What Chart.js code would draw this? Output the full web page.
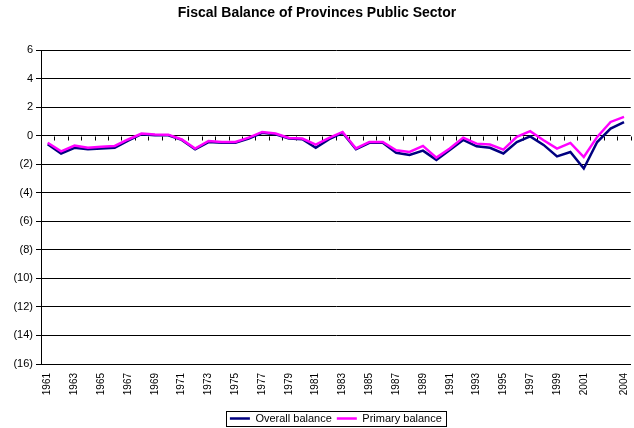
<!DOCTYPE html>
<html>
<head>
<meta charset="utf-8">
<script src="https://cdn.jsdelivr.net/npm/chart.js@4.4.1/dist/chart.umd.min.js"></script>
<style>
  html, body { margin: 0; padding: 0; background: #ffffff; }
  #wrap { width: 634px; height: 428px; position: relative; }
</style>
</head>
<body>
<div id="wrap"><canvas id="chart"></canvas></div>
<script>
// Fiscal year categories
const years = [
  '1961','1962','1963','1964','1965','1966','1967','1968','1969','1970',
  '1971','1972','1973','1974','1975','1976','1977','1978','1979','1980',
  '1981','1982','1983','1984','1985','1986','1987','1988','1989','1990',
  '1991','1992','1993','1994','1995','1996','1997','1998','1999','2000',
  '2001','2002','2003','2004'
];

// Balances, % of GDP
const overallBalance = [
  -0.60, -1.25, -0.85, -0.95, -0.90, -0.85, -0.35,  0.10,  0.03,  0.03,
  -0.30, -0.95, -0.45, -0.50, -0.50, -0.20,  0.20,  0.10, -0.20, -0.25,
  -0.85, -0.25,  0.20, -0.95, -0.50, -0.50, -1.20, -1.35, -1.05, -1.70,
  -1.00, -0.30, -0.75, -0.85, -1.25, -0.45, -0.05, -0.65, -1.45, -1.15,
  -2.30, -0.45,  0.50,  0.95
];
const primaryBalance = [
  -0.50, -1.10, -0.70, -0.85, -0.78, -0.72, -0.27,  0.15,  0.08,  0.07,
  -0.27, -0.90, -0.37, -0.44, -0.44, -0.14,  0.26,  0.15, -0.16, -0.20,
  -0.63, -0.15,  0.26, -0.90, -0.44, -0.44, -1.03, -1.14, -0.72, -1.54,
  -0.90, -0.14, -0.56, -0.62, -0.98, -0.09,  0.31, -0.32, -0.91, -0.51,
  -1.50, -0.09,  0.96,  1.32
];

// Years that carry a label on the category axis
const labeledYears = [
  '1961','1963','1965','1967','1969','1971','1973','1975','1977','1979',
  '1981','1983','1985','1987','1989','1991','1993','1995','1997','1999',
  '2001','2004'
];

// Value axis range
const yMin = -16;
const yMax = 6;
const yStep = 2;

const FONT = '"Liberation Sans", Arial, Helvetica, sans-serif';

// Small tick marks hanging below the zero line at each category boundary
const zeroLineTicks = {
  id: 'zeroLineTicks',
  beforeDatasetsDraw(chart) {
    const x = chart.scales.x, y = chart.scales.y, ctx = chart.ctx;
    const y0 = Math.round(y.getPixelForValue(0)) + 0.5;
    const step = x.getPixelForValue(1) - x.getPixelForValue(0);
    ctx.save();
    ctx.strokeStyle = '#000';
    ctx.lineWidth = 1;
    ctx.beginPath();
    for (let i = 1; i <= years.length; i++) {
      const px = Math.round(x.getPixelForValue(i) - step / 2) + 0.5;
      ctx.moveTo(px, y0);
      ctx.lineTo(px, y0 + 4);
    }
    ctx.stroke();
    ctx.restore();
  }
};

// Frame around the legend entries
const legendFrame = {
  id: 'legendFrame',
  afterDraw(chart) {
    const boxes = chart.legend && chart.legend.legendHitBoxes;
    if (!boxes || !boxes.length) return;
    let l = Infinity, r = -Infinity, t = Infinity, b = -Infinity;
    boxes.forEach(h => {
      l = Math.min(l, h.left); r = Math.max(r, h.left + h.width);
      t = Math.min(t, h.top);  b = Math.max(b, h.top + h.height);
    });
    const ctx = chart.ctx;
    ctx.save();
    ctx.strokeStyle = '#000';
    ctx.lineWidth = 1;
    ctx.strokeRect(Math.round(l - 4) + 0.5, Math.round(t - 2) + 0.5,
                   Math.round(r - l + 8), Math.round(b - t + 4));
    ctx.restore();
  }
};

new Chart(document.getElementById('chart'), {
  type: 'line',
  data: {
    labels: years,
    datasets: [
      {
        label: 'Overall balance',
        data: overallBalance,
        borderColor: '#000080',
        backgroundColor: '#000080',
        borderWidth: 2.5,
        pointRadius: 0,
        tension: 0,
        fill: false,
        order: 1
      },
      {
        label: 'Primary balance',
        data: primaryBalance,
        borderColor: '#FF00FF',
        backgroundColor: '#FF00FF',
        borderWidth: 2.5,
        pointRadius: 0,
        tension: 0,
        fill: false,
        order: 0
      }
    ]
  },
  options: {
    responsive: true,
    maintainAspectRatio: false,
    animation: false,
    devicePixelRatio: 1,
    layout: { padding: { left: 0, right: 0, top: 0, bottom: -6 } },
    plugins: {
      tooltip: { enabled: false },
      title: {
        display: true,
        text: 'Fiscal Balance of Provinces Public Sector',
        color: '#000',
        font: { family: FONT, size: 14, weight: 'bold', lineHeight: 1.2 },
        padding: { top: 5, bottom: 28.2 }
      },
      legend: {
        display: true,
        position: 'bottom',
        fullSize: false,
        labels: {
          color: '#000',
          font: { family: FONT, size: 11 },
          usePointStyle: true,
          pointStyle: 'line',
          pointStyleWidth: 20,
          padding: 5,
          sort: (a, b) => a.datasetIndex - b.datasetIndex
        }
      }
    },
    scales: {
      x: {
        type: 'category',
        offset: true,
        grid: {
          display: true,
          drawOnChartArea: false,
          drawTicks: true,
          tickLength: 9,
          color: 'rgba(0,0,0,0)'
        },
        border: { display: true, color: '#000', width: 1 },
        ticks: {
          autoSkip: false,
          minRotation: 90,
          maxRotation: 90,
          padding: 0,
          color: '#000',
          font: { family: FONT, size: 10, lineHeight: 1 },
          callback: function (value) {
            const lbl = this.getLabelForValue(value);
            return labeledYears.includes(lbl) ? lbl : '';
          }
        },
        afterFit(scale) { scale.height = 44; }
      },
      y: {
        min: yMin,
        max: yMax,
        grid: { color: '#000', lineWidth: 1, tickLength: 5, drawTicks: true },
        border: { display: true, color: '#000', width: 1 },
        ticks: {
          stepSize: yStep,
          padding: 3,
          color: '#000',
          font: { family: FONT, size: 11 },
          callback: v => (v < 0 ? '(' + (-v) + ')' : String(v))
        },
        afterFit(scale) { scale.width = 41; }
      }
    }
  },
  plugins: [zeroLineTicks, legendFrame]
});
</script>
</body>
</html>
